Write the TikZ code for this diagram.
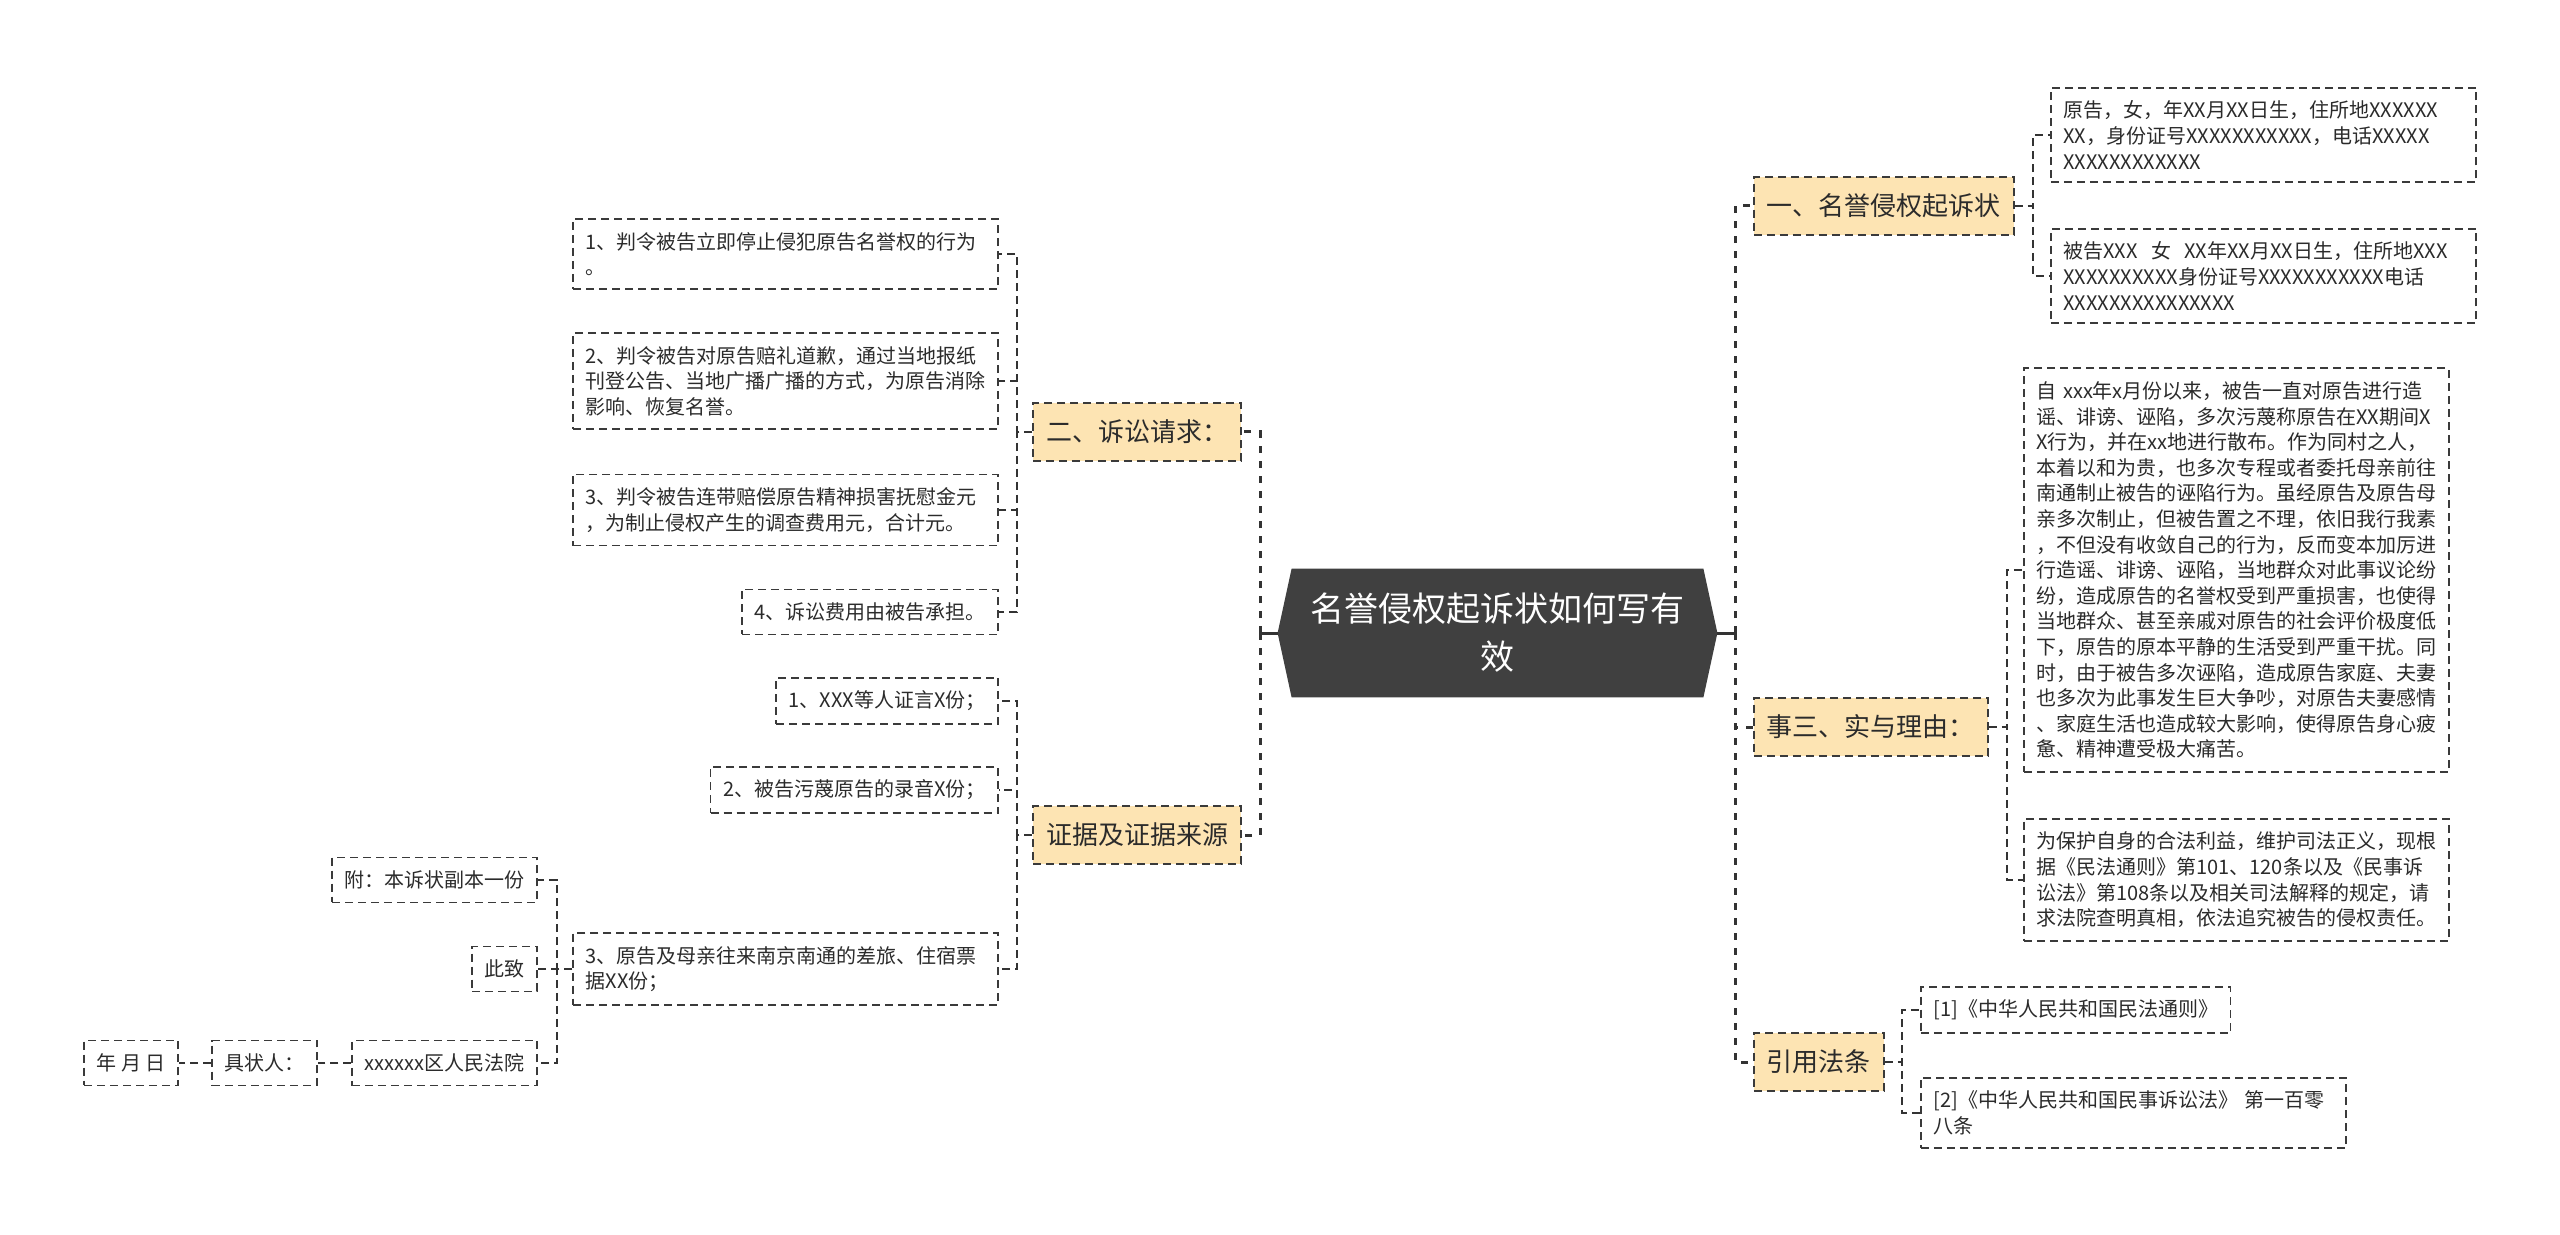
\documentclass[tikz,border=0pt]{standalone}
\usepackage{fontspec}
\setmainfont{Noto Sans CJK SC}
\usetikzlibrary{backgrounds}

\definecolor{rootfill}{HTML}{404040}
\definecolor{branchfill}{HTML}{FDE4B3}
\definecolor{boxline}{HTML}{3A3A3A}
\definecolor{linecol}{HTML}{333333}
\definecolor{txt}{HTML}{2B2B2B}

\tikzset{
  leaf/.style={draw=boxline, line width=0.9pt, dash pattern=on 4pt off 2.5pt,
    text=txt, font=\fontsize{10pt}{12.8pt}\selectfont, align=left,
    inner xsep=6.25pt, inner ysep=6.6pt},
  leafwide/.style={leaf, text width=200pt},
  branch/.style={draw=boxline, fill=branchfill, line width=0.9pt,
    dash pattern=on 4pt off 2.5pt, text=txt, font=\fontsize{13pt}{16pt}\selectfont,
    inner xsep=6.5pt, inner ysep=8.5pt},
  rootnode/.style={text=white, font=\fontsize{17pt}{24pt}\selectfont, align=center,
    minimum width=205.5pt, minimum height=64pt},
  trunk/.style={draw=linecol, line width=1.5pt, dash pattern=on 3.5pt off 4pt},
  link/.style={draw=linecol, line width=0.9pt, dash pattern=on 4pt off 2.5pt},
  stub/.style={draw=linecol, line width=1.5pt},
}

\begin{document}
\begin{tikzpicture}[x=0.5pt,y=-0.5pt]
  \useasboundingbox (0,0) rectangle (2560,1235);

  % centre
  \node[rootnode] (root) at (1497.5,633) {名誉侵权起诉状如何写有\\效};
  \begin{scope}[on background layer]
    \fill[rootfill] (root.north west) -- (root.north east) -- ([xshift=7pt]root.east)
      -- (root.south east) -- (root.south west) -- ([xshift=-7pt]root.west) -- cycle;
  \end{scope}
  \coordinate (lj) at (1260,633);
  \coordinate (rj) at (1735,633);

  % main branches
  \node[branch, anchor=east] (b2) at (1242,432) {二、诉讼请求：};
  \node[branch, anchor=east] (bev) at (1242,835) {证据及证据来源};
  \node[branch, anchor=west] (b1) at (1753,206) {一、名誉侵权起诉状};
  \node[branch, anchor=west] (b3) at (1753,727) {事三、实与理由：};
  \node[branch, anchor=west] (blaw) at (1753,1062) {引用法条};

  % left leaves
  \node[leafwide, anchor=east] (r1) at (999,254) {1、判令被告立即停止侵犯原告名誉权的行为\\。};
  \node[leafwide, anchor=east] (r2) at (999,381) {2、判令被告对原告赔礼道歉，通过当地报纸\\刊登公告、当地广播广播的方式，为原告消除\\影响、恢复名誉。};
  \node[leafwide, anchor=east] (r3) at (999,510) {3、判令被告连带赔偿原告精神损害抚慰金元\\，为制止侵权产生的调查费用元，合计元。};
  \node[leaf, anchor=east] (r4) at (999,612) {4、诉讼费用由被告承担。};

  \node[leaf, anchor=east] (e1) at (999,701) {1、XXX等人证言X份；};
  \node[leaf, anchor=east] (e2) at (999,790) {2、被告污蔑原告的录音X份；};
  \node[leafwide, anchor=east] (e3) at (999,969) {3、原告及母亲往来南京南通的差旅、住宿票\\据XX份；};

  \node[leaf, anchor=east] (att) at (538,880) {附：本诉状副本一份};
  \node[leaf, anchor=east] (cz) at (538,969) {此致};
  \node[leaf, anchor=east] (court) at (538,1063) {xxxxxx区人民法院};
  \node[leaf, anchor=east] (sig) at (318,1063) {具状人：};
  \node[leaf, anchor=east] (date) at (179,1063) {年 月 日};

  % right leaves
  \node[leafwide, anchor=west] (p1) at (2050,135) {原告，女，年XX月XX日生，住所地XXXXXX\\XX，身份证号XXXXXXXXXXX，电话XXXXX\\XXXXXXXXXXXX};
  \node[leafwide, anchor=west] (p2) at (2050,276) {被告XXX\ \ 女\ \ XX年XX月XX日生，住所地XXX\\XXXXXXXXXX身份证号XXXXXXXXXXX电话\\XXXXXXXXXXXXXXX};

  \node[leafwide, anchor=west] (f1) at (2023,570) {自 xxx年x月份以来，被告一直对原告进行造\\谣、诽谤、诬陷，多次污蔑称原告在XX期间X\\X行为，并在xx地进行散布。作为同村之人，\\本着以和为贵，也多次专程或者委托母亲前往\\南通制止被告的诬陷行为。虽经原告及原告母\\亲多次制止，但被告置之不理，依旧我行我素\\，不但没有收敛自己的行为，反而变本加厉进\\行造谣、诽谤、诬陷，当地群众对此事议论纷\\纷，造成原告的名誉权受到严重损害，也使得\\当地群众、甚至亲戚对原告的社会评价极度低\\下，原告的原本平静的生活受到严重干扰。同\\时，由于被告多次诬陷，造成原告家庭、夫妻\\也多次为此事发生巨大争吵，对原告夫妻感情\\、家庭生活也造成较大影响，使得原告身心疲\\惫、精神遭受极大痛苦。};
  \node[leafwide, anchor=west] (f2) at (2023,880) {为保护自身的合法利益，维护司法正义，现根\\据《民法通则》第101、120条以及《民事诉\\讼法》第108条以及相关司法解释的规定，请\\求法院查明真相，依法追究被告的侵权责任。};

  \node[leaf, anchor=west] (l1) at (1920,1010) {[1]《中华人民共和国民法通则》};
  \node[leafwide, anchor=west] (l2) at (1920,1113) {[2]《中华人民共和国民事诉讼法》 第一百零\\八条};

  % trunks
  \draw[stub] ([xshift=-7pt]root.west) -- (lj);
  \draw[stub] ([yshift=3.5pt]lj) -- ([yshift=-3.5pt]lj);
  \draw[stub] ([xshift=7pt]root.east) -- (rj);
  \draw[stub] ([yshift=3.5pt]rj) -- ([yshift=-3.5pt]rj);
  \draw[trunk] (lj) |- (b2.east);
  \draw[trunk] (lj) |- (bev.east);
  \draw[trunk] (rj) |- (b1.west);
  \draw[trunk] (rj) |- (b3.west);
  \draw[trunk] (rj) |- (blaw.west);

  % leaf links
  \foreach \c in {r1,r2,r3,r4}
    \draw[link] (b2.west) -| ([xshift=9pt]\c.east) -- (\c.east);
  \foreach \c in {e1,e2,e3}
    \draw[link] (bev.west) -| ([xshift=9pt]\c.east) -- (\c.east);
  \foreach \c in {att,cz,court}
    \draw[link] (e3.west) -| ([xshift=9.5pt]\c.east) -- (\c.east);
  \draw[link] (court.west) -- (sig.east);
  \draw[link] (sig.west) -- (date.east);
  \foreach \c in {p1,p2}
    \draw[link] (b1.east) -| ([xshift=-8.5pt]\c.west) -- (\c.west);
  \foreach \c in {f1,f2}
    \draw[link] (b3.east) -| ([xshift=-8pt]\c.west) -- (\c.west);
  \foreach \c in {l1,l2}
    \draw[link] (blaw.east) -| ([xshift=-9pt]\c.west) -- (\c.west);
\end{tikzpicture}
\end{document}
